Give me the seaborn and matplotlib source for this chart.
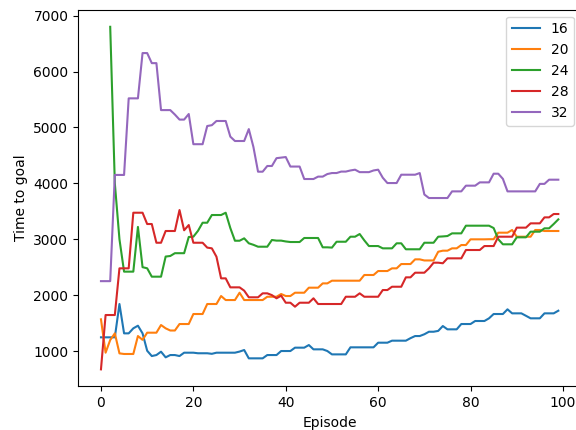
import numpy as np
import pandas as pd
import matplotlib
matplotlib.use("Agg")
from matplotlib import pyplot as plt
import seaborn as sns

nan = np.nan
episodes = np.arange(100)
sizes = ["16", "20", "24", "28", "32"]

# time to goal per episode, one list per grid size
t16 = [1245, 1245, 1245, 1245, 1841, 1316, 1316, 1406, 1453, 1316,
       1005, 910, 928, 988, 887, 928, 928, 910, 970, 970,
       970, 960, 960, 960, 950, 970, 970, 970, 970, 970,
       990, 1018, 869, 869, 869, 869, 928, 928, 928, 1000,
       1000, 1000, 1060, 1060, 1060, 1107, 1030, 1030, 1030, 1000,
       940, 940, 940, 940, 1066, 1066, 1066, 1066, 1066, 1066,
       1149, 1149, 1149, 1185, 1185, 1185, 1185, 1230, 1268, 1268,
       1300, 1345, 1345, 1360, 1447, 1388, 1388, 1388, 1483, 1483,
       1483, 1537, 1537, 1537, 1585, 1662, 1662, 1662, 1746, 1674,
       1674, 1674, 1630, 1585, 1585, 1585, 1674, 1674, 1674, 1721]
t20 = [1567, 970, 1197, 1316, 958, 947, 947, 947, 1268, 1200,
       1328, 1328, 1328, 1465, 1406, 1367, 1367, 1483, 1483, 1483,
       1662, 1662, 1662, 1841, 1841, 1841, 1984, 1912, 1912, 1912,
       2043, 1912, 1912, 1912, 1912, 1912, 1971, 1971, 1971, 2020,
       1984, 1984, 2043, 2043, 2043, 2133, 2133, 2133, 2210, 2210,
       2258, 2258, 2258, 2258, 2258, 2258, 2258, 2360, 2360, 2360,
       2431, 2431, 2431, 2479, 2479, 2556, 2556, 2556, 2640, 2640,
       2620, 2620, 2620, 2776, 2795, 2795, 2837, 2837, 2896, 2896,
       2998, 2998, 2998, 2998, 3000, 3000, 3117, 3117, 3117, 3165,
       3045, 3045, 3045, 3045, 3165, 3165, 3147, 3147, 3147, 3147]
t24 = [nan, nan, 6800, 4000, 3000, 2420, 2420, 2420, 3220, 2500,
       2480, 2330, 2330, 2330, 2690, 2700, 2750, 2750, 2750, 3040,
       3045, 3150, 3295, 3295, 3433, 3433, 3433, 3474, 3200, 2973,
       2973, 3016, 2927, 2900, 2866, 2866, 2866, 2986, 2975, 2975,
       2960, 2950, 2950, 2950, 3022, 3022, 3022, 3022, 2855, 2855,
       2850, 2955, 2955, 2955, 3045, 3045, 3093, 2980, 2878, 2878,
       2878, 2837, 2837, 2837, 2927, 2927, 2820, 2820, 2820, 2820,
       2937, 2937, 2937, 3045, 3050, 3057, 3105, 3105, 3105, 3242,
       3242, 3242, 3242, 3242, 3242, 3200, 3000, 2909, 2909, 2909,
       3034, 3034, 3034, 3135, 3135, 3135, 3195, 3195, 3272, 3355]
t28 = [672, 1644, 1644, 1644, 2479, 2479, 2479, 3474, 3474, 3474,
       3272, 3272, 2937, 2937, 3147, 3147, 3147, 3522, 3160, 3254,
       2937, 2937, 2937, 2850, 2837, 2687, 2300, 2300, 2139, 2139,
       2139, 2080, 1961, 1961, 1961, 2032, 2032, 2000, 1943, 1990,
       1864, 1864, 1793, 1864, 1864, 1864, 1943, 1841, 1841, 1841,
       1841, 1841, 1841, 1971, 1971, 1971, 2032, 1971, 1971, 1971,
       1971, 2091, 2091, 2150, 2150, 2150, 2318, 2318, 2401, 2401,
       2401, 2479, 2580, 2580, 2570, 2658, 2658, 2658, 2658, 2807,
       2807, 2807, 2807, 2878, 2878, 2878, 3045, 3045, 3045, 3045,
       3207, 3207, 3207, 3284, 3284, 3284, 3391, 3391, 3451, 3451]
t32 = [2250, 2250, 2250, 4150, 4150, 4150, 5520, 5520, 5520, 6330,
       6330, 6150, 6150, 5310, 5310, 5310, 5230, 5140, 5140, 5240,
       4700, 4700, 4700, 5025, 5040, 5115, 5115, 5115, 4835, 4757,
       4757, 4757, 4970, 4650, 4208, 4208, 4310, 4310, 4450, 4460,
       4470, 4300, 4300, 4300, 4077, 4077, 4077, 4120, 4120, 4166,
       4184, 4184, 4210, 4210, 4230, 4244, 4200, 4200, 4200, 4230,
       4244, 4100, 4005, 4005, 4005, 4154, 4154, 4154, 4154, 4184,
       3800, 3737, 3737, 3737, 3737, 3737, 3856, 3856, 3856, 3958,
       3958, 3958, 4017, 4017, 4017, 4172, 4172, 4080, 3856, 3856,
       3856, 3856, 3856, 3856, 3856, 3990, 3990, 4065, 4065, 4065]

df = pd.concat([
    pd.DataFrame({"Episode": episodes, "time": vals, "size": s})
    for s, vals in zip(sizes, [t16, t20, t24, t28, t32])
], ignore_index=True)

fig = plt.figure(figsize=(5.76, 4.3), dpi=100)
# the reference is a tight crop, the right spine falls just outside
ax = fig.add_axes([0.1356, 0.1012, 0.8734, 0.8763])
sns.lineplot(data=df, x="Episode", y="time", hue="size", hue_order=sizes,
             palette="tab10", errorbar=None, linewidth=1.5, ax=ax)

handles, labels = ax.get_legend_handles_labels()
ax.legend(handles, labels, loc="upper right")
ax.set_xlabel("Episode")
ax.set_ylabel("Time to goal")

plt.savefig("out.png", dpi=100)
